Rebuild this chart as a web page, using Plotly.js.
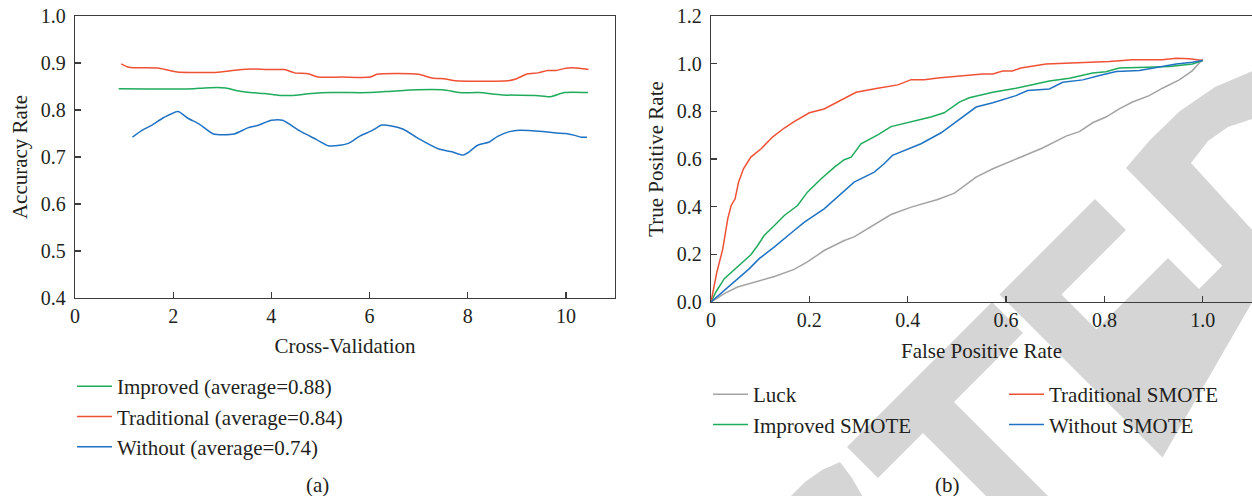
<!DOCTYPE html>
<html>
<head>
<meta charset="utf-8">
<script src="https://cdn.plot.ly/plotly-3.0.1.min.js"></script>
<style>
html,body{margin:0;padding:0;background:#fff;}
#chart{width:1252px;height:496px;}
</style>
</head>
<body>
<div id="chart"></div>
<script>
// ---------- Panel (a): accuracy per cross-validation fold ----------
const improvedX = [0.89,2.42,2.63,3.07,3.31,3.51,3.86,4.17,4.41,4.82,5.23,5.98,6.45,6.97,7.48,7.68,7.82,8.23,8.71,9.39,9.67,9.97,10.45];
const improvedY = [0.845,0.845,0.847,0.847,0.841,0.838,0.835,0.831,0.831,0.835,0.837,0.837,0.840,0.843,0.843,0.840,0.837,0.837,0.832,0.831,0.828,0.837,0.837];

const traditionalX = [0.94,1.09,1.71,2.08,2.39,2.87,3.31,3.62,4.0,4.27,4.47,4.75,4.95,5.43,6.01,6.15,7.0,7.27,7.55,7.75,8.81,8.98,9.22,9.43,9.63,9.80,10.0,10.28,10.46];
const traditionalY = [0.898,0.891,0.889,0.881,0.880,0.880,0.885,0.887,0.886,0.886,0.879,0.877,0.870,0.870,0.870,0.876,0.876,0.868,0.866,0.862,0.862,0.866,0.877,0.879,0.884,0.884,0.889,0.889,0.886];

const withoutX = [1.17,1.37,1.57,1.81,2.10,2.29,2.53,2.82,3.24,3.52,3.72,4.0,4.23,4.57,4.92,5.16,5.40,5.57,5.81,6.05,6.25,6.45,6.69,7.0,7.41,7.68,7.90,8.03,8.20,8.44,8.61,8.85,9.05,9.53,9.80,10.0,10.18,10.31,10.43];
const withoutY = [0.742,0.757,0.768,0.784,0.797,0.783,0.770,0.749,0.749,0.762,0.767,0.778,0.778,0.756,0.737,0.724,0.725,0.729,0.745,0.756,0.768,0.766,0.759,0.739,0.717,0.711,0.704,0.711,0.725,0.732,0.744,0.754,0.757,0.754,0.751,0.750,0.746,0.742,0.742];

const namesA = ["Improved (average=0.88)", "Traditional (average=0.84)", "Without (average=0.74)"];
const ticksAX = [0,2,4,6,8,10];

// ---------- Panel (b): ROC curves ----------
const luckFPR = [0,0.027,0.054,0.095,0.129,0.169,0.196,0.230,0.271,0.291,0.325,0.366,0.407,0.461,0.495,0.539,0.573,0.620,0.674,0.722,0.749,0.776,0.803,0.830,0.857,0.891,0.918,0.952,0.979,1.0];
const luckTPR = [0,0.035,0.063,0.086,0.107,0.137,0.168,0.216,0.258,0.273,0.314,0.367,0.398,0.430,0.457,0.524,0.559,0.601,0.646,0.696,0.715,0.752,0.776,0.810,0.839,0.866,0.897,0.932,0.971,1.020];

const tradFPR = [0,0.012,0.024,0.034,0.041,0.049,0.056,0.066,0.081,0.102,0.125,0.149,0.169,0.200,0.230,0.257,0.295,0.339,0.380,0.407,0.434,0.461,0.505,0.552,0.573,0.593,0.613,0.630,0.681,0.749,0.810,0.857,0.918,0.946,0.973,1.0];
const tradTPR = [0,0.126,0.223,0.349,0.405,0.433,0.503,0.559,0.608,0.643,0.692,0.730,0.757,0.794,0.810,0.839,0.880,0.897,0.911,0.933,0.933,0.940,0.948,0.957,0.957,0.969,0.969,0.982,0.999,1.003,1.009,1.016,1.016,1.023,1.021,1.013];

const impFPR = [0,0.010,0.027,0.054,0.081,0.095,0.108,0.129,0.149,0.176,0.196,0.224,0.251,0.271,0.285,0.305,0.339,0.366,0.407,0.447,0.474,0.505,0.525,0.573,0.620,0.688,0.729,0.776,0.803,0.830,0.885,0.932,0.979,1.0];
const impTPR = [0,0.042,0.098,0.147,0.198,0.237,0.279,0.321,0.363,0.405,0.461,0.517,0.566,0.597,0.608,0.664,0.701,0.736,0.757,0.776,0.794,0.839,0.857,0.880,0.897,0.927,0.939,0.961,0.966,0.982,0.985,0.988,0.999,1.013];

const woFPR = [0,0.027,0.054,0.078,0.098,0.129,0.169,0.190,0.230,0.257,0.291,0.332,0.352,0.369,0.400,0.427,0.468,0.505,0.539,0.573,0.620,0.644,0.688,0.715,0.756,0.790,0.824,0.871,0.912,0.946,0.979,1.0];
const woTPR = [0,0.049,0.098,0.140,0.182,0.231,0.300,0.335,0.391,0.440,0.503,0.545,0.580,0.615,0.643,0.664,0.710,0.766,0.818,0.836,0.866,0.887,0.894,0.922,0.932,0.950,0.967,0.971,0.985,0.999,1.006,1.013];

const namesB = ["Luck", "Improved SMOTE", "Traditional SMOTE", "Without SMOTE"];
const ticksBX = [0,0.2,0.4,0.6,0.8,1.0];
const tickTextBX = ["0","0.2","0.4","0.6","0.8","1.0"];

// ---------- styles ----------
const GREEN = "#1fab5c", RED = "#ef5135", BLUE = "#2073c4", GREY = "#a3a3a3";
const FONT = "Liberation Serif, Times New Roman, serif";
const TXT = "#231f20";
const AXC = "#3c3c3c";
const W = 1252, H = 496;

// Watermark polygons (pixel outline of the grey "RETRACTED" letters)
const wmPolys = [
  // T
  [[847,447],[992,302],[1023,333],[954,402],[1075,523],[1013,523],[923,433],[878,478]],
  // E
  [[999.5,294.5],[1095,199],[1126,230],[1061.5,294.5],[1096.5,329.5],[1168,258],[1199,289],[1127.5,360.5],[1227,261],[1258,292],[1162.5,457.5]],
  // D
  [[1126,168],[1150,140],[1180,111],[1215,87],[1255,70],[1255,118],[1228,127],[1208,141],[1191,163],[1255,233],[1255,299]],
  // C fragment
  [[788,499],[805,482],[822,470],[840,462],[852,478],[864,499]]
];
</script>
<script>
function toPath(poly){
  return poly.map((p,i)=>(i?'L':'M')+(p[0]/W).toFixed(5)+','+(1-p[1]/H).toFixed(5)).join(' ')+' Z';
}
const shapes = wmPolys.map(p=>({type:'path', xref:'paper', yref:'paper', path:toPath(p),
  fillcolor:'#d5d5d5', line:{width:0}, layer:'below'}));

const lineA = (x,y,c,n,leg,grp)=>({x:x,y:y,type:'scatter',mode:'lines',name:n,legend:leg,legendgroup:grp,
  line:{color:c,width:1.5,shape:'spline',smoothing:0.6},xaxis:'x',yaxis:'y',hoverinfo:'skip'});
const lineB = (x,y,c,n,leg,grp)=>({x:x,y:y,type:'scatter',mode:'lines',name:n,legend:leg,legendgroup:grp,
  line:{color:c,width:1.5},xaxis:'x2',yaxis:'y2',hoverinfo:'skip'});

const data = [
  lineA(improvedX, improvedY, GREEN, namesA[0], 'legend','a1'),
  lineA(traditionalX, traditionalY, RED, namesA[1], 'legend','a2'),
  lineA(withoutX, withoutY, BLUE, namesA[2], 'legend','a3'),
  lineB(luckFPR, luckTPR, GREY, namesB[0], 'legend2','b1'),
  lineB(impFPR, impTPR, GREEN, namesB[1], 'legend2','b2'),
  lineB(tradFPR, tradTPR, RED, namesB[2], 'legend3','b3'),
  lineB(woFPR, woTPR, BLUE, namesB[3], 'legend3','b4')
];

const tickF = {family:FONT,size:20,color:TXT};
const titleF = {family:FONT,size:21,color:TXT};
const axCommon = {showline:true, linecolor:AXC, linewidth:1.3, ticks:'inside', ticklen:6, tickwidth:1.3,
  tickcolor:AXC, showgrid:false, zeroline:false, mirror:true, tickfont:tickF, fixedrange:true};

const legCommon = {font:titleF, bgcolor:'rgba(0,0,0,0)', borderwidth:0,
  traceorder:'grouped', tracegroupgap:0, itemwidth:35, xanchor:'left', yanchor:'top', orientation:'v'};

const layout = {
  width:W, height:H, margin:{l:0,r:0,t:0,b:0},
  paper_bgcolor:'#ffffff', plot_bgcolor:'rgba(0,0,0,0)',
  font:tickF,
  showlegend:true,
  xaxis: Object.assign({}, axCommon, {domain:[75/W, 615/W], range:[0,11], tickvals:ticksAX, anchor:'y',
    title:{text:'Cross-Validation', font:titleF, standoff:12}}),
  yaxis: Object.assign({}, axCommon, {domain:[(H-298)/H, (H-16)/H], range:[0.4,1.0], dtick:0.1, tick0:0.4,
    tickformat:'.1f', anchor:'x', ticklabelstandoff:4,
    title:{text:'Accuracy Rate', font:titleF, standoff:7}}),
  xaxis2: Object.assign({}, axCommon, {domain:[711/W, 1], range:[0,1.1], tickvals:ticksBX, ticktext:tickTextBX, anchor:'y2',
    title:{text:'False Positive Rate', font:titleF, standoff:13}}),
  yaxis2: Object.assign({}, axCommon, {domain:[(H-302)/H, (H-16)/H], range:[0,1.2], dtick:0.2, tick0:0,
    tickformat:'.1f', anchor:'x2', ticklabelstandoff:4,
    title:{text:'True Positive Rate', font:titleF, standoff:7}}),
  legend: Object.assign({}, legCommon, {x:72/W, y:1-366/H}),
  legend2: Object.assign({}, legCommon, {x:708/W, y:1-374/H}),
  legend3: Object.assign({}, legCommon, {x:1004/W, y:1-374/H}),
  shapes: shapes,
  annotations:[
    {text:'(a)', xref:'paper', yref:'paper', x:317/W, y:1-485/H, showarrow:false, xanchor:'center', yanchor:'middle', font:titleF},
    {text:'(b)', xref:'paper', yref:'paper', x:947/W, y:1-485/H, showarrow:false, xanchor:'center', yanchor:'middle', font:titleF}
  ]
};

Plotly.newPlot('chart', data, layout, {staticPlot:true, displayModeBar:false});
</script>
</body>
</html>
